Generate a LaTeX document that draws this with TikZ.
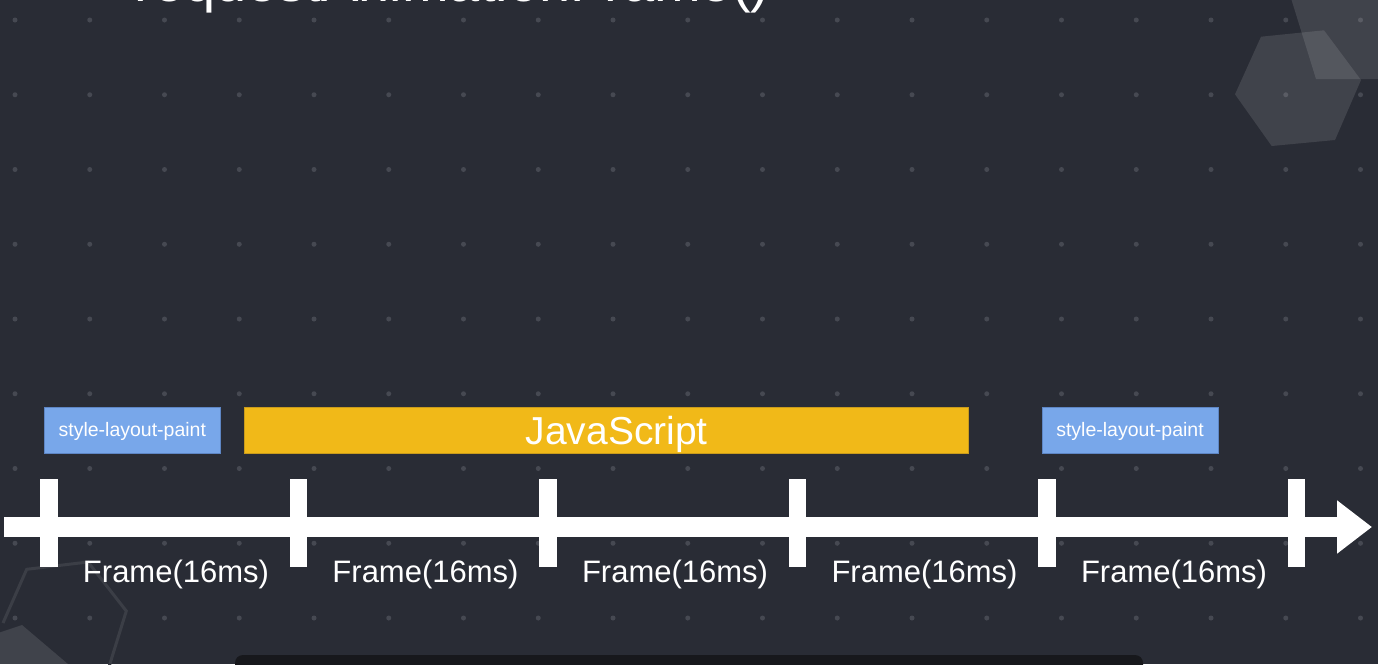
\documentclass[tikz,border=0pt]{standalone}
\usepackage{fontspec}
\setmainfont{Liberation Sans}
\usetikzlibrary{arrows.meta}
\definecolor{bgc}{HTML}{292C35}
\definecolor{dotc}{HTML}{464952}
\definecolor{bluec}{HTML}{78A7EA}
\definecolor{blueb}{HTML}{5E86C4}
\definecolor{yelc}{HTML}{F1B918}
\definecolor{yelb}{HTML}{C99B1C}
\definecolor{darkbar}{HTML}{17181C}
\definecolor{hexline}{HTML}{3B3E46}
\tikzset{
  bluebox/.style={fill=bluec, draw=blueb, line width=0.8pt, minimum width=176.4pt, minimum height=46.4pt, inner sep=0pt},
  yelbox/.style={fill=yelc, draw=yelb, line width=0.8pt, minimum width=724pt, minimum height=46.4pt, inner sep=0pt},
  boxtext/.style={text=white, inner sep=0pt, font=\fontsize{19.5}{22}\selectfont},
  jstext/.style={text=white, inner sep=0pt, font=\fontsize{39}{44}\selectfont},
  tickmark/.style={fill=white, minimum width=17.5pt, minimum height=88pt, inner sep=0pt},
  framelabel/.style={text=white, inner sep=0pt, anchor=base, font=\fontsize{31}{34}\selectfont},
  hexfill/.style={fill=white, fill opacity=0.11},
}
\begin{document}
\begin{tikzpicture}[x=1pt,y=-1pt]
\useasboundingbox (0,0) rectangle (1378,664);
\clip (0,0) rectangle (1378,664);
\fill[bgc] (0,0) rectangle (1378,664);
% dot grid
\foreach \i in {0,...,18}{
  \foreach \j in {0,...,8}{
    \fill[dotc] ({15+74.75*\i},{20+74.75*\j}) circle (2.5pt);
  }
}
% decorative hexagons
\fill[hexfill] (1261,36.7) -- (1324,30.3) -- (1361,80) -- (1335,140) -- (1271.7,146) -- (1235,94.3) -- cycle;
\fill[hexfill] (1290,-5) -- (1316,79) -- (1385,79) -- (1385,-5) -- cycle;
\draw[hexline, line width=3pt] (3,623) -- (26.7,569.3) -- (88,562) -- (126.3,611) -- (108,670);
\fill[hexfill] (-5,634) -- (22,625) -- (75,670) -- (-5,670) -- cycle;
% title (cut off at top, as in the reference)
\node[text=white, inner sep=0pt, anchor=base, font=\fontsize{56}{60}\selectfont] (title) at (452,1) {requestAnimationFrame()};
% dark bar at bottom
\fill[darkbar, rounded corners=8pt] (235,655) rectangle (1143,675);
% boxes
\node[bluebox] (slp1) at (132.5,430.5) {};
\node[boxtext, anchor=base] (slp1t) at (132.3,436) {style-layout-paint};
\node[yelbox] (js) at (606.3,430.5) {};
\node[jstext, anchor=base] (jst) at (616.7,444.3) {JavaScript};
\node[bluebox] (slp2) at (1130.3,430.5) {};
\node[boxtext, anchor=base] (slp2t) at (1130,436) {style-layout-paint};
% timeline
\coordinate (tstart) at (4,527);
\coordinate (tend) at (1372,527);
\draw[white, line width=20pt, -{Triangle[length=35pt,width=51pt]}] (tstart) -- (tend);
% ticks
\foreach \k/\x in {1/48.8,2/298.3,3/547.8,4/797.3,5/1046.8,6/1296.3}{
  \node[tickmark] (t\k) at (\x,523) {};
}
% frame labels
\foreach \k/\x in {1/176,2/425.5,3/675,4/924.5,5/1174}{
  \node[framelabel] (f\k) at (\x,582) {Frame(16ms)};
}
\end{tikzpicture}
\end{document}
